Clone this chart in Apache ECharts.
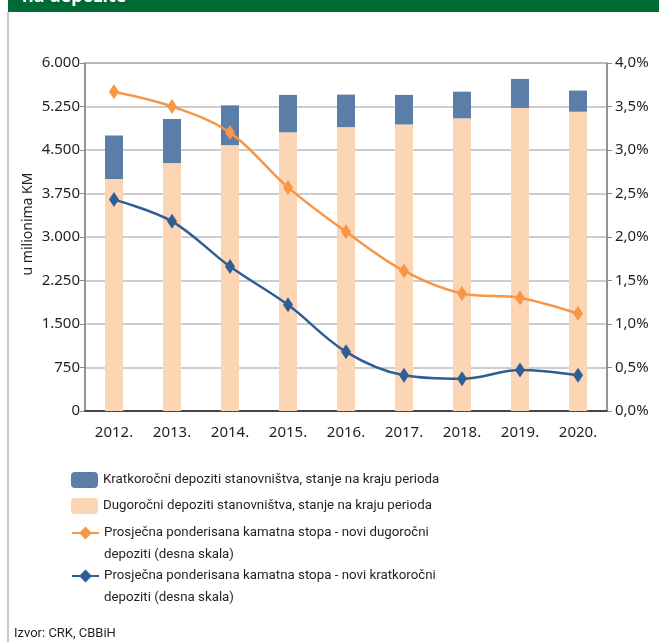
<!DOCTYPE html>
<html>
<head>
<meta charset="utf-8">
<script src="https://cdn.jsdelivr.net/npm/echarts@6/dist/echarts.min.js"></script>
<style>
  html, body { margin: 0; padding: 0; background: #fff; }
  #chart { width: 659px; height: 642px; }
</style>
</head>
<body>
<div id="chart"></div>
<script>
const years = ['2012.', '2013.', '2014.', '2015.', '2016.', '2017.', '2018.', '2019.', '2020.']
// u milionima KM
const longTerm = [4000, 4275, 4585, 4805, 4895, 4940, 5045, 5225, 5160]
const shortTerm = [750, 760, 685, 645, 560, 510, 460, 500, 365]
// %
const rateLong = [3.67, 3.50, 3.20, 2.57, 2.06, 1.61, 1.35, 1.30, 1.12]
const rateShort = [2.43, 2.18, 1.66, 1.22, 0.68, 0.41, 0.37, 0.47, 0.41]

const NAMES = [
  'Kratkoročni depoziti stanovništva, stanje na kraju perioda',
  'Dugoročni depoziti stanovništva, stanje na kraju perioda',
  'Prosječna ponderisana kamatna stopa - novi dugoročni depoziti (desna skala)',
  'Prosječna ponderisana kamatna stopa - novi kratkoročni depoziti (desna skala)',
]
const C_SHORT = '#5b7ea8'
const C_LONG = '#fcd5b4'
const C_RLONG = '#f79646'
const C_RSHORT = '#2f5e96'
const FONT = '"Noto Sans", sans-serif'
const FONT_LEG = 'Roboto, "Noto Sans", sans-serif'
const TXT = '#231f20'

const chart = echarts.init(document.getElementById('chart'))

function thousands(v) {
  return String(v).replace(/(\d)(?=(\d{3})+$)/, '$1.')
}

// one legend per row so each icon sits exactly where the reference has it
// two-line names get an empty first line so the icon lines up with line one
function legendAt(name, iconY, twoLines) {
  return {
    data: [name],
    left: 71,
    top: twoLines ? iconY - 33 : iconY - 11,
    itemWidth: 27,
    itemHeight: 16,
    padding: 0,
    selectedMode: false,
    formatter: n => twoLines ? '\n' + n.replace(' depoziti (desna', '\ndepoziti (desna') : n,
    textStyle: { color: TXT, fontFamily: FONT_LEG, fontSize: 13.3, lineHeight: 22 },
  }
}

chart.setOption({
  animation: false,
  textStyle: { fontFamily: FONT },
  grid: {
    left: 85, right: 52, top: 63, bottom: 231,
    show: true, borderColor: '#6d6d6d', borderWidth: 1,
  },
  legend: [
    legendAt(NAMES[0], 480, false),
    legendAt(NAMES[1], 506, false),
    legendAt(NAMES[2], 533, true),
    legendAt(NAMES[3], 576, true),
  ],
  graphic: [
    { type: 'rect', shape: { x: 8, y: 0, width: 651, height: 12 }, style: { fill: '#006a34' } },
    { type: 'text', x: 22, y: 6, style: { text: 'na depozite', fill: '#fff', font: 'bold 18px ' + FONT, verticalAlign: 'bottom' } },
    { type: 'line', shape: { x1: 8, y1: 12, x2: 8, y2: 642 }, style: { stroke: '#b5b5b5', lineWidth: 1.5 } },
    { type: 'text', x: 14, y: 634, style: { text: 'Izvor: CRK, CBBiH', fill: TXT, font: '13px ' + FONT_LEG, verticalAlign: 'middle' } },
  ],
  xAxis: {
    type: 'category',
    data: years,
    axisLine: { lineStyle: { color: TXT, width: 1.5 } },
    axisTick: { show: false },
    axisLabel: { color: TXT, fontSize: 15, margin: 14 },
  },
  yAxis: [
    {
      type: 'value', min: 0, max: 6000, interval: 750,
      name: 'u milionima KM', nameLocation: 'middle', nameGap: 50, nameMoveOverlap: false,
      nameTextStyle: { color: TXT, fontSize: 14, padding: [0, 0, 0, 26] },
      axisLine: { show: true, lineStyle: { color: '#8a8a8a', width: 1.5 } },
      axisTick: { show: true, length: 5, lineStyle: { color: '#8a8a8a' } },
      axisLabel: { color: TXT, fontSize: 15, margin: 5, formatter: thousands },
      splitLine: { lineStyle: { color: '#bdbdbd', width: 1.5 } },
    },
    {
      type: 'value', min: 0, max: 4, interval: 0.5, position: 'right',
      axisLine: { show: true, lineStyle: { color: '#8a8a8a', width: 1.5 } },
      axisTick: { show: true, length: 5, lineStyle: { color: '#8a8a8a' } },
      axisLabel: { color: TXT, fontSize: 15, margin: 8, formatter: v => v.toFixed(1).replace('.', ',') + '%' },
      splitLine: { show: false },
    },
  ],
  series: [
    {
      name: NAMES[1], type: 'bar', stack: 'dep', data: longTerm,
      barWidth: 18, itemStyle: { color: C_LONG },
    },
    {
      name: NAMES[0], type: 'bar', stack: 'dep', data: shortTerm,
      barWidth: 18, itemStyle: { color: C_SHORT },
    },
    {
      name: NAMES[2], type: 'line', yAxisIndex: 1, data: rateLong, smooth: 0.35,
      symbol: 'diamond', symbolSize: [10, 15],
      lineStyle: { color: C_RLONG, width: 2.5 }, itemStyle: { color: C_RLONG },
    },
    {
      name: NAMES[3], type: 'line', yAxisIndex: 1, data: rateShort, smooth: 0.35,
      symbol: 'diamond', symbolSize: [10, 15],
      lineStyle: { color: C_RSHORT, width: 2.5 }, itemStyle: { color: C_RSHORT },
    },
  ],
})
</script>
</body>
</html>
